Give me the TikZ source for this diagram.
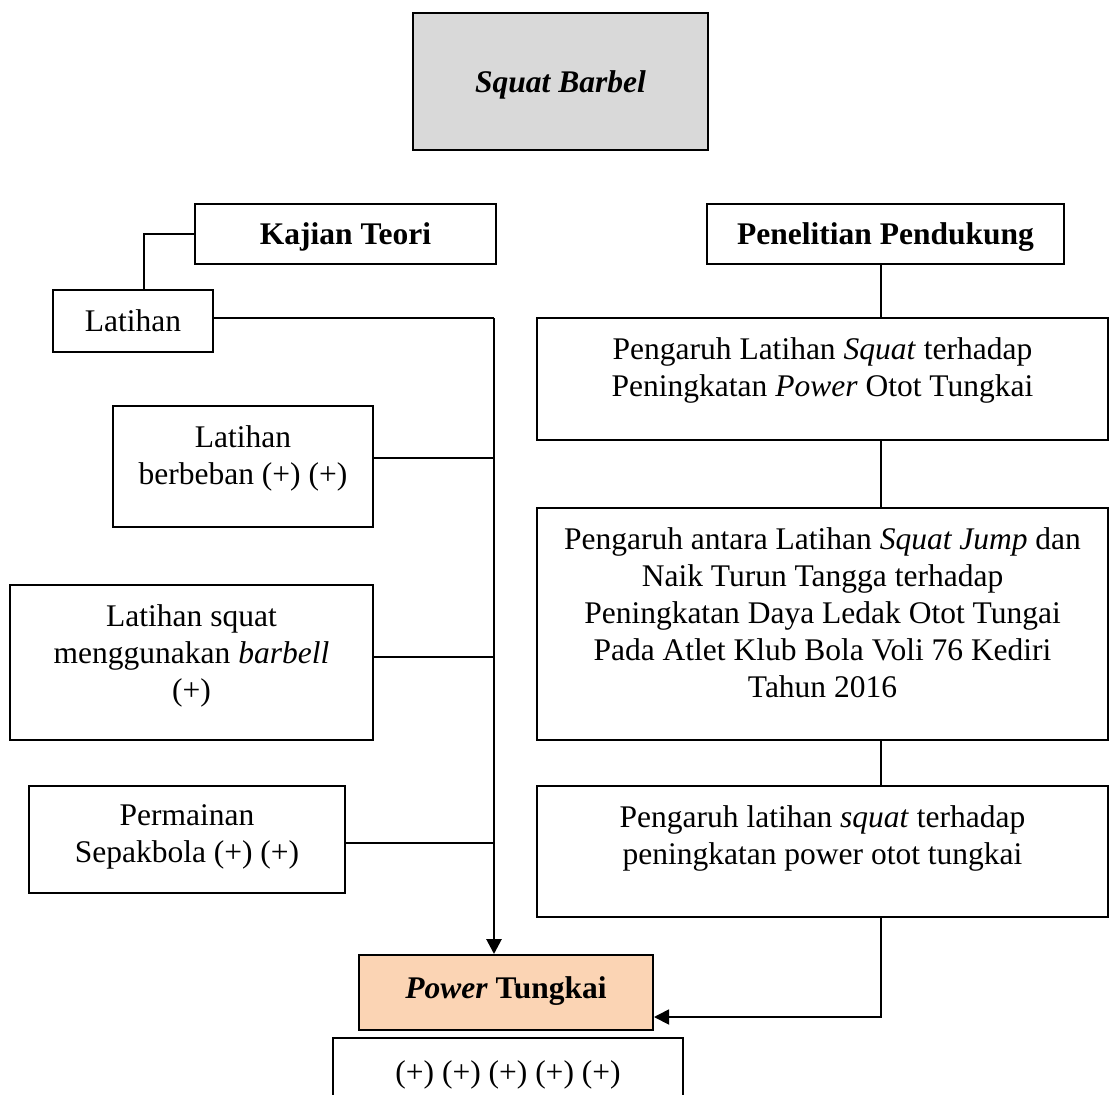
\documentclass[tikz,border=0pt]{standalone}
\usepackage{fontspec}
\setmainfont{Liberation Serif}
\usetikzlibrary{arrows.meta,calc}
\definecolor{boxgray}{HTML}{D9D9D9}
\definecolor{peach}{HTML}{FBD4B4}
\begin{document}
\begin{tikzpicture}[x=1pt,y=-1pt,
  box/.style={draw=black,line width=2pt,rectangle,inner sep=0pt,text depth=0pt,
    font=\fontsize{31.5}{37}\selectfont,align=center},
  txt/.style={inner sep=0pt,anchor=north,align=center,
    font=\fontsize{31.5}{37}\selectfont},
  conn/.style={line width=1.8pt},
  trunkline/.style={line width=2.8pt},
  arr/.style={-{Triangle[length=15pt,width=15pt]}}]
\useasboundingbox (0,0) rectangle (1109,1095);
\clip (0,0) rectangle (1109,1095);
% top
\node[box,fill=boxgray,minimum width=295pt,minimum height=137pt] (sq) at (560.5,81.5) {\textbf{\textit{Squat Barbel}}};
% headings
\node[box,minimum width=301pt,minimum height=60pt] (kt) at (345.5,234) {\textbf{Kajian Teori}};
\node[box,minimum width=357pt,minimum height=60pt] (pp) at (885.5,234) {\textbf{Penelitian Pendukung}};
% left boxes
\node[box,minimum width=160pt,minimum height=62pt] (lat) at (133,321) {Latihan};
\node[box,minimum width=260pt,minimum height=121pt] (lb) at (243,466.5) {};
\node[txt] (lbt) at ([yshift=-20pt]lb.north) {Latihan\\berbeban (+) (+)};
\node[box,minimum width=363pt,minimum height=155pt] (ls) at (191.5,662.5) {};
\node[txt] (lst) at ([yshift=-20pt]ls.north) {Latihan squat\\menggunakan \textit{barbell}\\(+)};
\node[box,minimum width=316pt,minimum height=107pt] (pm) at (187,839.5) {};
\node[txt] (pmt) at ([yshift=-19pt]pm.north) {Permainan\\Sepakbola (+) (+)};
% right boxes
\node[box,minimum width=571pt,minimum height=122pt] (r1) at (822.5,379) {};
\node[txt] (r1t) at ([yshift=-20pt]r1.north) {Pengaruh Latihan \textit{Squat} terhadap\\Peningkatan \textit{Power} Otot Tungkai};
\node[box,minimum width=571pt,minimum height=232pt] (r2) at (822.5,624) {};
\node[txt] (r2t) at ([yshift=-20pt]r2.north) {Pengaruh antara Latihan \textit{Squat Jump} dan\\Naik Turun Tangga terhadap\\Peningkatan Daya Ledak Otot Tungai\\Pada Atlet Klub Bola Voli 76 Kediri\\Tahun 2016};
\node[box,minimum width=571pt,minimum height=131pt] (r3) at (822.5,851.5) {};
\node[txt] (r3t) at ([yshift=-20pt]r3.north) {Pengaruh latihan \textit{squat} terhadap\\peningkatan power otot tungkai};
% bottom
\node[box,fill=peach,minimum width=294pt,minimum height=75pt] (pt) at (506,992.5) {};
\node[txt,anchor=center] (ptt) at (506,991) {\textbf{\textit{Power} Tungkai}};
\node[box,minimum width=350pt,minimum height=84pt] (pl) at (508,1080) {};
\node[txt,anchor=center] (plt) at (508,1075) {(+) (+) (+) (+) (+)};
% left connectors
\draw[conn] (kt.west) -| ([xshift=11pt]lat.north);
\coordinate (trunk) at (494,318);
\draw[conn] ([yshift=3pt]lat.east) -- (trunk);
\draw[trunkline,arr] (trunk) -- (trunk |- pt.north);
\draw[conn] ([yshift=8.5pt]lb.east) -- ([yshift=8.5pt]lb.east -| trunk);
\draw[conn] ([yshift=5.5pt]ls.east) -- ([yshift=5.5pt]ls.east -| trunk);
\draw[conn] ([yshift=-3.5pt]pm.east) -- ([yshift=-3.5pt]pm.east -| trunk);
% right connectors
\coordinate (rx) at (881,264);
\draw[conn] (rx |- pp.south) -- (rx |- r1.north);
\draw[conn] (rx |- r1.south) -- (rx |- r2.north);
\draw[conn] (rx |- r2.south) -- (rx |- r3.north);
\draw[conn,arr] (rx |- r3.south) |- ([yshift=-24.5pt]pt.east);
\end{tikzpicture}
\end{document}
